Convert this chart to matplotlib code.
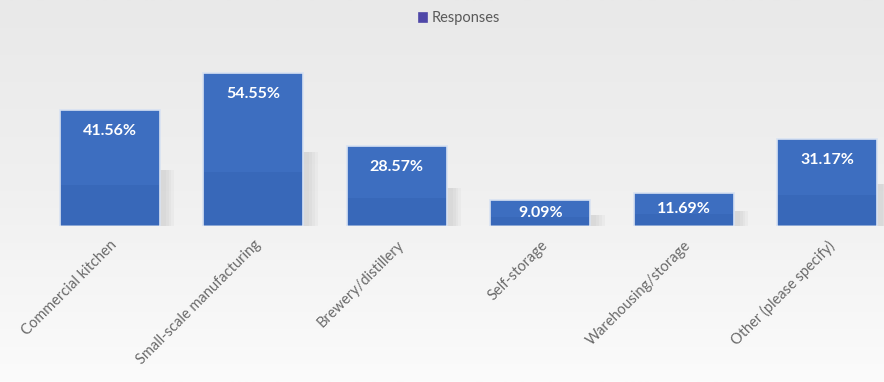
import matplotlib.pyplot as plt
import numpy as np

categories = ["Commercial kitchen", "Small-scale manufacturing", "Brewery/distillery",
              "Self-storage", "Warehousing/storage", "Other (please specify)"]
responses = [41.56, 54.55, 28.57, 9.09, 11.69, 31.17]
value_labels = ["41.56%", "54.55%", "28.57%", "9.09%", "11.69%", "31.17%"]

plt.rcParams['font.family'] = ['Lato', 'DejaVu Sans']

fig = plt.figure(figsize=(8.84, 3.82), dpi=100)

# background gradient (light grey at top, near white at bottom)
bg = fig.add_axes([0, 0, 1, 1], zorder=0)
grad = np.linspace(0, 1, 256).reshape(-1, 1)
bg.imshow(grad, aspect='auto', cmap=plt.cm.colors.LinearSegmentedColormap.from_list(
    'bg', ['#e9e9e9', '#f0f0f0', '#fbfbfb']), extent=[0, 1, 0, 1])
bg.axis('off')

ax = fig.add_axes([38 / 884, 158 / 382 - 0.004, 1 - 38 / 884, 0.438], zorder=1)
ax.patch.set_alpha(0)
x = np.arange(len(categories))

# soft shadow under the bars
for xi, v in zip(x, responses):
    for k in range(4):
        ax.bar(xi + 0.04 + 0.02 * k, v * 0.5, width=0.70, bottom=-0.8,
               color='#8a8a8a', alpha=0.06, zorder=1)

bars = ax.bar(x, responses, width=0.70, color='#3D6EC0', edgecolor='#d8e2f2',
              linewidth=1.2, zorder=2, label='Responses')

# darker lower part of each bar
for xi, v in zip(x, responses):
    ax.bar(xi, v * 0.35, width=0.68, color='#2f5fae', alpha=0.35, zorder=3)

for xi, v, lab in zip(x, responses, value_labels):
    y = max(v - 7.5, v / 2)
    ax.text(xi, y, lab, ha='center', va='center', color='white',
            fontsize=11.5, fontweight='bold', zorder=4)

ax.set_xlim(-0.5, 5.5 - 15 / 143.5)
ax.set_ylim(0, 60)
ax.set_yticks([])
ax.set_xticks(x)
ax.set_xticklabels(categories, rotation=45, ha='right', rotation_mode='anchor',
                   fontsize=10.5, color='#6a6a6a')
ax.tick_params(axis='x', length=0, pad=9)
for s in ax.spines.values():
    s.set_visible(False)

fig.legend(handles=[bars], labels=['Responses'], loc='center', bbox_to_anchor=(0.52, 0.952),
           frameon=False, fontsize=10.5, handlelength=0.55, handleheight=0.55,
           handletextpad=0.3, labelcolor='#5a5a5a')
for h in fig.legends[0].legend_handles:
    h.set_color('#4f47a8')

fig.savefig('out.png', dpi=100)
